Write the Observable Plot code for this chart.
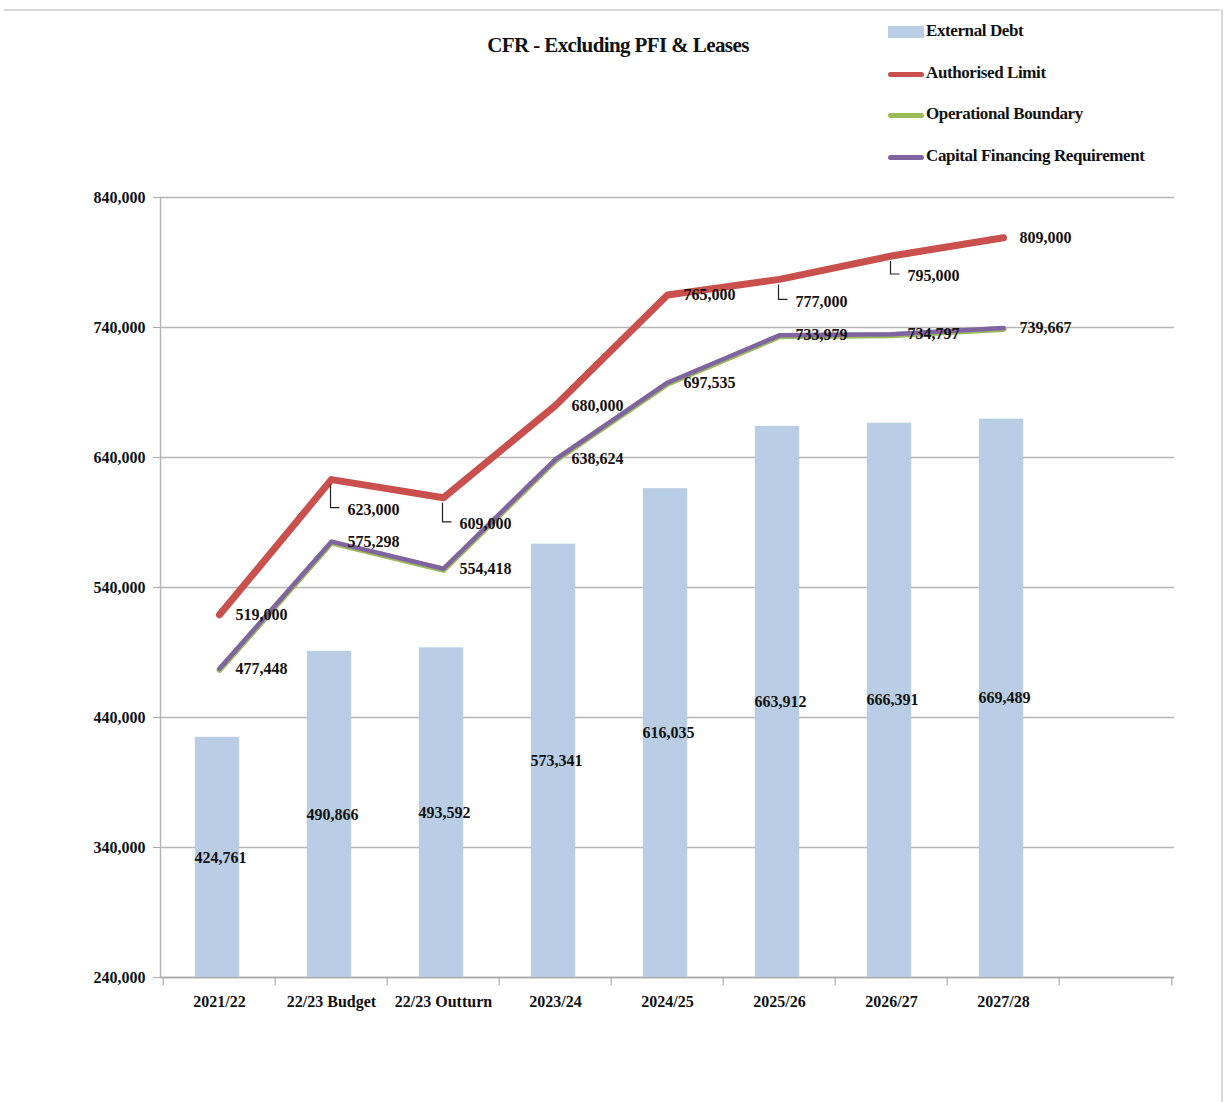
<!DOCTYPE html>
<html>
<head>
<meta charset="utf-8">
<script src="https://cdn.jsdelivr.net/npm/d3@7"></script>
<script src="https://cdn.jsdelivr.net/npm/@observablehq/plot@0.6"></script>
<style>
  html, body { margin: 0; padding: 0; background: #fff; }
  #wrap { position: relative; width: 1226px; height: 1102px; overflow: hidden; font-family: "Liberation Serif", "Times New Roman", serif; font-weight: bold; color: #111; }
  #title { position: absolute; left: 0; width: 1236px; top: 33px; text-align: center; font-size: 21px; letter-spacing: -0.6px; }
  #legend { position: absolute; left: 886px; top: 21px; }
  .li { position: absolute; left: 0; height: 20px; white-space: nowrap; font-size: 17px; letter-spacing: -0.4px; }
  .sw { position: absolute; left: 2px; width: 36px; }
  .lt { position: absolute; left: 40px; top: 0; }
  #topline { position: absolute; left: 4px; right: 6px; top: 9px; height: 0; border-top: 2px solid #d8d8d8; }
  #rightline { position: absolute; right: 3px; top: 9px; bottom: 0; width: 0; border-left: 2px solid #d8d8d8; }
</style>
</head>
<body>
<div id="wrap">
  <div id="topline"></div>
  <div id="rightline"></div>
  <div id="chart"></div>
  <div id="title">CFR - Excluding PFI &amp; Leases</div>
  <div id="legend"></div>
</div>
<script>
// ---- Data ----
const categories = ["2021/22", "22/23 Budget", "22/23 Outturn", "2023/24", "2024/25", "2025/26", "2026/27", "2027/28"];
const externalDebt = [424761, 490866, 493592, 573341, 616035, 663912, 666391, 669489];
const authorisedLimit = [519000, 623000, 609000, 680000, 765000, 777000, 795000, 809000];
const operationalBoundary = [477448, 575298, 554418, 638624, 697535, 733979, 734797, 739667];
const capitalFinancingRequirement = [477448, 575298, 554418, 638624, 697535, 733979, 734797, 739667];
const yTicks = [240000, 340000, 440000, 540000, 640000, 740000, 840000];
const seriesNames = ["External Debt", "Authorised Limit", "Operational Boundary", "Capital Financing Requirement"];

// ---- Styling ----
const colors = { debt: "#b9cde5", auth: "#c9504d", op: "#9bbb59", cfr: "#8064a2" };
const W = 1226, H = 1102, mL = 160, mR = 52, mT = 197, mB = 125;
const slots = [...categories, " "];
const step = (W - mL - mR) / slots.length;
const half = step / 2;
const authLabelDy = [0, 30, 26, 0, 0, 22, 20, 0]; // pixel offsets of labels with leader lines

const rows = categories.map((c, i) => ({
  category: c,
  debt: externalDebt[i],
  debtMid: (yTicks[0] + externalDebt[i]) / 2,
  auth: authorisedLimit[i],
  op: operationalBoundary[i],
  cfr: capitalFinancingRequirement[i],
  authDy: authLabelDy[i]
}));

const fmt = d3.format(",");
const tickSymbol = { draw(ctx) { ctx.moveTo(0, 0); ctx.lineTo(0, 8); } };
const leaderSymbol = (dy) => ({ draw(ctx) { ctx.moveTo(0, 5); ctx.lineTo(0, dy - 2); ctx.lineTo(9, dy - 2); } });

const authOffsets = [...new Set(authLabelDy)];
const authTextMarks = authOffsets.map(o => Plot.text(rows.filter(r => r.authDy === o), {
  x: "category", y: "auth", text: d => fmt(d.auth), dx: 42, dy: o, fill: "#111", letterSpacing: "-0.3px"
}));
const leaderMarks = authOffsets.filter(o => o > 0).map(o => Plot.dot(rows.filter(r => r.authDy === o), {
  x: "category", y: "auth", dx: -1, symbol: leaderSymbol(o), stroke: "#222", strokeWidth: 1.2, fill: "none", r: 4
}));

const chart = Plot.plot({
  width: W, height: H,
  marginLeft: mL, marginRight: mR, marginTop: mT, marginBottom: mB,
  style: { fontFamily: "'Liberation Serif', 'Times New Roman', serif", fontSize: "16px", fontWeight: "bold", color: "#111", background: "transparent" },
  x: { type: "band", domain: slots, padding: 0, label: null },
  y: { domain: [yTicks[0], yTicks[yTicks.length - 1]], label: null },
  marks: [
    Plot.gridY(yTicks, { stroke: "#b5b5b5", strokeOpacity: 1, strokeWidth: 1.5 }),
    Plot.ruleY([yTicks[0]], { stroke: "#a8a8a8", strokeWidth: 1.5 }),
    Plot.frame({ anchor: "left", stroke: "#b5b5b5", strokeWidth: 1.5 }),
    Plot.dot(slots, { x: d => d, y: () => yTicks[0], dx: -half, symbol: tickSymbol, stroke: "#aaa", strokeWidth: 1.2, r: 4 }),
    Plot.dot([slots[slots.length - 1]], { x: d => d, y: () => yTicks[0], dx: half, symbol: tickSymbol, stroke: "#aaa", strokeWidth: 1.2, r: 4 }),
    Plot.axisY(yTicks, { tickSize: 7, tickPadding: 8, tickFormat: fmt, stroke: "#aaa", fontSize: 16, letterSpacing: "-0.3px" }),
    Plot.axisX(categories, { tickSize: 0, tickPadding: 18, fontSize: 16, letterSpacing: "-0.3px" }),
    Plot.barY(rows, { x: "category", y1: yTicks[0], y2: "debt", fill: colors.debt, insetLeft: (step - 45) / 2 - 2, insetRight: (step - 45) / 2 + 2 }),
    Plot.text(rows, { x: "category", y: "debtMid", text: d => fmt(d.debt), dx: 1, fill: "#111", letterSpacing: "-0.3px" }),
    Plot.line(rows, { x: "category", y: "op", stroke: colors.op, strokeWidth: 6, dy: 1 }),
    Plot.line(rows, { x: "category", y: "cfr", stroke: colors.cfr, strokeWidth: 4.5, strokeLinejoin: "round" }),
    Plot.line(rows, { x: "category", y: "auth", stroke: colors.auth, strokeWidth: 7, strokeLinecap: "round", strokeLinejoin: "round" }),
    Plot.text(rows, { x: "category", y: "cfr", text: d => fmt(d.cfr), dx: 42, fill: "#111", letterSpacing: "-0.3px" }),
    ...leaderMarks,
    ...authTextMarks
  ]
});
document.getElementById("chart").appendChild(chart);

// ---- Legend ----
const legend = document.getElementById("legend");
const legendItems = [
  { name: seriesNames[0], color: colors.debt, kind: "rect" },
  { name: seriesNames[1], color: colors.auth, kind: "line" },
  { name: seriesNames[2], color: colors.op, kind: "line" },
  { name: seriesNames[3], color: colors.cfr, kind: "line" }
];
legendItems.forEach((it, i) => {
  const d = document.createElement("div");
  d.className = "li";
  d.style.top = (i * 41.7) + "px";
  const sw = document.createElement("div");
  sw.className = "sw";
  if (it.kind === "rect") { sw.style.top = "5px"; sw.style.height = "12px"; sw.style.background = it.color; }
  else { sw.style.top = "9px"; sw.style.height = "5px"; sw.style.borderRadius = "3px"; sw.style.background = it.color; }
  const t = document.createElement("div");
  t.className = "lt";
  t.textContent = it.name;
  d.appendChild(sw); d.appendChild(t);
  legend.appendChild(d);
});
</script>
</body>
</html>
